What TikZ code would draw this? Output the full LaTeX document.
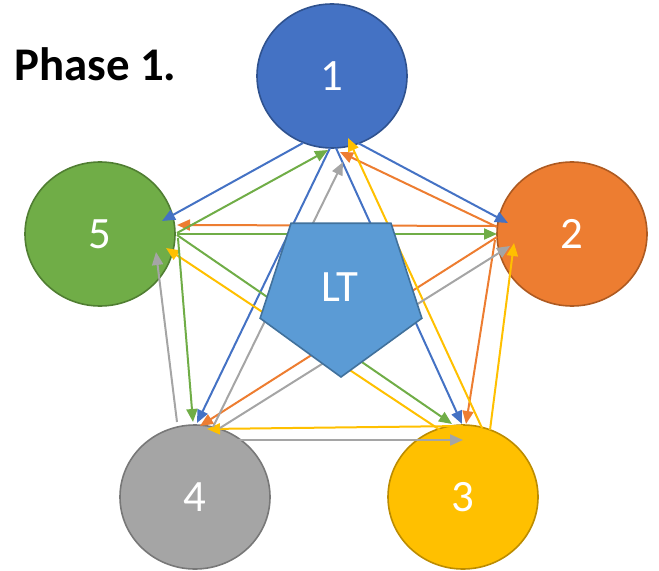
\documentclass[tikz,border=0pt]{standalone}
\usepackage{fontspec}
\setmainfont{Carlito}
\usetikzlibrary{arrows.meta,calc,shapes.geometric}
\definecolor{cblue}{HTML}{4472C4}\definecolor{dblue}{HTML}{2F528F}
\definecolor{corange}{HTML}{ED7D31}\definecolor{dorange}{HTML}{AE5A21}
\definecolor{cgray}{HTML}{A5A5A5}\definecolor{dgray}{HTML}{787878}
\definecolor{cyellow}{HTML}{FFC000}\definecolor{dyellow}{HTML}{BC8C00}
\definecolor{cgreen}{HTML}{70AD47}\definecolor{dgreen}{HTML}{507E32}
\definecolor{clt}{HTML}{5B9BD5}\definecolor{dlt}{HTML}{41719C}
\begin{document}
\begin{tikzpicture}[x=1bp,y=-1bp,
  ball/.style={ellipse, minimum width=150bp, minimum height=144bp, inner sep=0pt,
    line width=1.6bp, text=white, font=\fontsize{45}{45}\selectfont},
  arr/.style={line width=2bp, -{Triangle[length=13bp,width=11bp]}}]
\useasboundingbox (0,0) rectangle (659,571);
\node[ball, fill=cblue, draw=dblue] (n1) at (332,76) {1};
\node[ball, fill=corange, draw=dorange] (n2) at (572,234) {2};
\node[ball, fill=cyellow, draw=dyellow] (n3) at (463,497) {3};
\node[ball, fill=cgray, draw=dgray] (n4) at (195,497) {4};
\node[ball, fill=cgreen, draw=dgreen] (n5) at (100,234) {5};
% from 1 (blue)
\draw[arr,cblue] ($(n1)+(-29,67)$) -- ($(n5)+(62,-13)$);
\draw[arr,cblue] ($(n1)+(26,67)$) -- ($(n2)+(-64,-11)$);
\draw[arr,cblue] ($(n1)+(-2,72)$) -- ($(n4)+(2,-74)$);
\draw[arr,cblue] ($(n1)+(4,72)$) -- ($(n3)+(-1,-73)$);
% from 2 (orange)
\draw[arr,corange] ($(n2)+(-75,-7)$) -- ($(n1)+(8,76)$);
\draw[arr,corange] ($(n2)+(-75,-8)$) -- ($(n5)+(77,-9)$);
\draw[arr,corange] ($(n2)+(-75,3)$) -- ($(n4)+(5,-71)$);
\draw[arr,corange] ($(n2)+(-77,6)$) -- ($(n3)+(3,-73)$);
% from 3 (yellow)
\draw[arr,cyellow] ($(n3)+(19,-69)$) -- ($(n1)+(16,62)$);
\draw[arr,cyellow] ($(n3)+(27,-67)$) -- ($(n2)+(-58,9)$);
\draw[arr,cyellow] ($(n3)+(-23,-67)$) -- ($(n5)+(66,14)$);
\draw[arr,cyellow] ($(n3)+(0,-71)$) -- ($(n4)+(12,-68)$);
% from 4 (gray)
\draw[arr,cgray] ($(n4)+(18,-70)$) -- ($(n1)+(11,86)$);
\draw[arr,cgray] ($(n4)+(25,-69)$) -- ($(n2)+(-62,12)$);
\draw[arr,cgray] ($(n4)+(-18,-75)$) -- ($(n5)+(56,18)$);
\draw[arr,cgray] ($(n4)+(32,-57)$) -- ($(n3)+(0,-57)$);
% from 5 (green)
\draw[arr,cgreen] ($(n5)+(77,-1)$) -- ($(n1)+(-4,74)$);
\draw[arr,cgreen] ($(n5)+(77,0)$) -- ($(n2)+(-75,0)$);
\draw[arr,cgreen] ($(n5)+(77,1)$) -- ($(n3)+(-11,-73)$);
\draw[arr,cgreen] ($(n5)+(78,4)$) -- ($(n4)+(-2,-75)$);
% LT pentagon
\node[regular polygon, regular polygon sides=5, shape border rotate=180,
  minimum size=170bp, inner sep=0pt, fill=clt, draw=dlt, line width=1.6bp] (lt) at (341,292) {};
\node[text=white, font=\fontsize{45}{45}\selectfont] (ltl) at (340,287) {LT};
\node[anchor=base west, inner sep=0pt, font=\bfseries\fontsize{47}{47}\selectfont] (ph) at (14,81) {Phase 1.};
\end{tikzpicture}
\end{document}
